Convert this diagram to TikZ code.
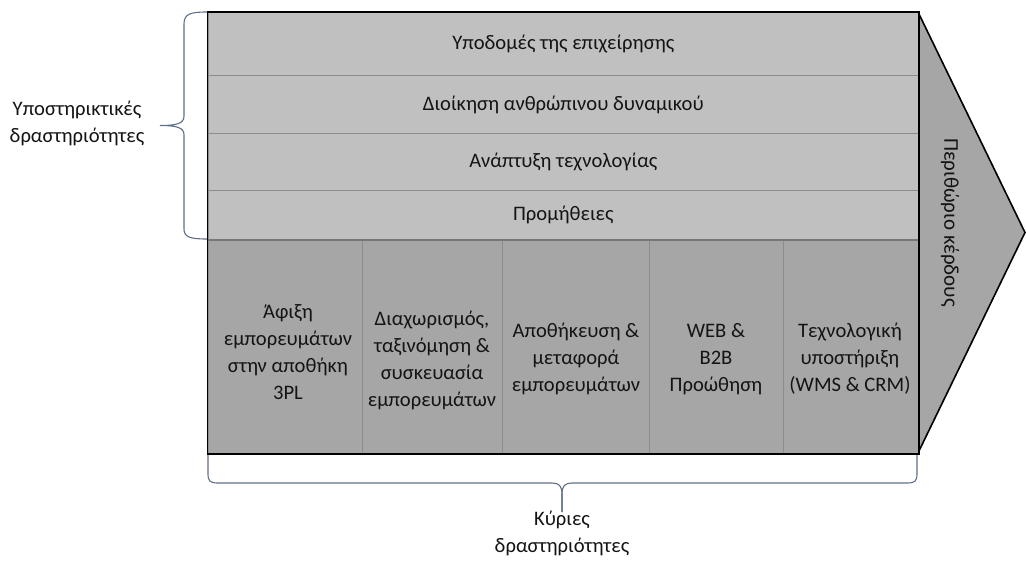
\documentclass[tikz,border=0pt]{standalone}
\usepackage{fontspec}
\setmainfont{Carlito}
\definecolor{lightrow}{HTML}{C0C0C0}
\definecolor{darkcol}{HTML}{A6A6A6}
\definecolor{sepline}{HTML}{8C8C8C}
\definecolor{bracecol}{HTML}{5F6F86}
\definecolor{txt}{HTML}{141414}
\tikzset{
  rowbox/.style={draw=sepline, line width=1.2pt, fill=lightrow, anchor=north west, inner sep=0pt, minimum width=710.5pt, font=\fontsize{20.6}{27}\selectfont, text=txt},
  colbox/.style={draw=sepline, line width=1.2pt, fill=darkcol, anchor=north west, inner sep=0pt, minimum height=214pt},
  coltext/.style={align=center, font=\fontsize{20.6}{27}\selectfont, text=txt, inner sep=0pt},
  bracestyle/.style={draw=bracecol, line width=1.1pt},
  outline/.style={draw=black, line width=1.6pt}
}
\begin{document}
\begin{tikzpicture}[x=1pt,y=-1pt]
\useasboundingbox (0,0) rectangle (1026,560);
% arrow head (profit margin)
\coordinate (atop) at (918,12);
\coordinate (atip) at (1025,232.5);
\coordinate (abot) at (918,453);
\fill[darkcol] (atop) -- (atip) -- (abot) -- cycle;
\draw[outline, line join=miter] (atop) -- (atip) -- (abot);
\node[rotate=-90, font=\fontsize{21}{24}\selectfont, text=txt, inner sep=0pt] (margin) at (950,222.5) {Περιθώριο κέρδους};
% support activities
\node[rowbox, minimum height=63pt] (r1) at (207.5,12) {Υποδομές της επιχείρησης};
\node[rowbox, minimum height=58pt] (r2) at (207.5,75) {Διοίκηση ανθρώπινου δυναμικού};
\node[rowbox, minimum height=57pt] (r3) at (207.5,133) {Ανάπτυξη τεχνολογίας};
\node[rowbox, minimum height=49pt] (r4) at (207.5,190) {Προμήθειες};
% primary activities
\node[colbox, minimum width=154.5pt] (c1) at (207.5,239) {};
\node[colbox, minimum width=140pt] (c2) at (362,239) {};
\node[colbox, minimum width=147pt] (c3) at (502,239) {};
\node[colbox, minimum width=134pt] (c4) at (649,239) {};
\node[colbox, minimum width=135pt] (c5) at (783,239) {};
\node[coltext] (t1) at (288,352) {Άφιξη\\εμπορευμάτων\\στην αποθήκη\\3PL};
\node[coltext] (t2) at (432,360) {Διαχωρισμός,\\ταξινόμηση \&\\συσκευασία\\εμπορευμάτων};
\node[coltext] (t3) at (576,359) {Αποθήκευση \&\\μεταφορά\\εμπορευμάτων};
\node[coltext] (t4) at (716,359) {WEB \&\\B2B\\Προώθηση};
\node[coltext] (t5) at (850,359) {Τεχνολογική\\υποστήριξη\\(WMS \& CRM)};
% separator between support and primary
\draw[draw=sepline!85!black, line width=2.2pt] (r4.south west) -- (r4.south east);
% outer border
\draw[outline] (r1.north west) rectangle (c5.south east);
% left brace
\coordinate (lb1) at (207,12);
\coordinate (lbtip) at (160,125.5);
\coordinate (lb2) at (207,239);
\draw[bracestyle] (lb1) .. controls (190,12) and (184,14) .. (184,24) -- (184,116)
  .. controls (184,123) and (178,125.5) .. (lbtip)
  .. controls (178,125.5) and (184,128) .. (184,135) -- (184,229)
  .. controls (184,237) and (190,239) .. (lb2);
\node[align=center, font=\fontsize{20.6}{27}\selectfont, text=txt, inner sep=0pt] (suplab) at (77,123) {Υποστηρικτικές\\δραστηριότητες};
% bottom brace
\coordinate (bb1) at (208,455);
\coordinate (bbtip) at (562,512);
\coordinate (bb2) at (917,455);
\draw[bracestyle] (bb1) -- (208,474) .. controls (208,481) and (210,483) .. (218,483) -- (552,483)
  .. controls (559,483) and (562,486) .. (562,494) -- (bbtip);
\draw[bracestyle] (bbtip) -- (562,494) .. controls (562,486) and (565,483) .. (572,483) -- (907,483)
  .. controls (915,483) and (917,481) .. (917,474) -- (bb2);
\node[align=center, font=\fontsize{20.6}{27}\selectfont, text=txt, inner sep=0pt] (primlab) at (562,533.5) {Κύριες\\δραστηριότητες};
\end{tikzpicture}
\end{document}
